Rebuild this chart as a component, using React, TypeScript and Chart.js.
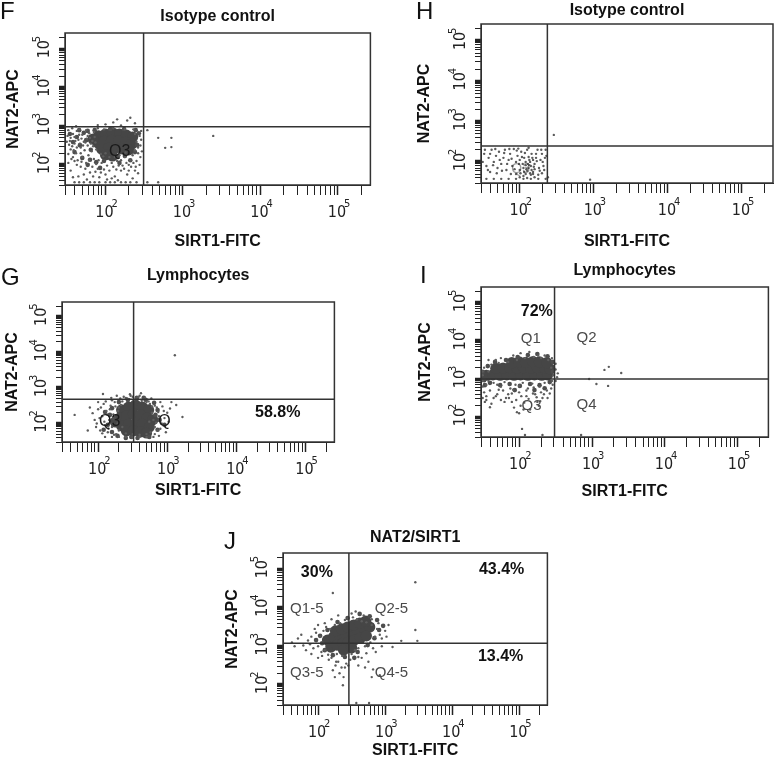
import { useEffect, useRef } from 'react';
import { Chart, registerables } from 'chart.js';

Chart.register(...registerables);

// ---------- axis data ----------
const AXIS_MIN = 30;
const AXIS_MAX = 262144;
const TICK_VALUES = [
  30, 40, 50, 60, 70, 80, 90,
  100, 200, 300, 400, 500, 600, 700, 800, 900,
  1000, 2000, 3000, 4000, 5000, 6000, 7000, 8000, 9000,
  10000, 20000, 30000, 40000, 50000, 60000, 70000, 80000, 90000,
  100000, 200000,
];
const DECADE_VALUES = [100, 1000, 10000, 100000];
const DECADE_LABELS = ['10²', '10³', '10⁴', '10⁵'];
const DECADE_BASE = '10';
const DECADE_EXPONENTS = ['2', '3', '4', '5'];

const X_AXIS_TITLE = 'SIRT1-FITC';
const Y_AXIS_TITLE = 'NAT2-APC';
const PANEL_LETTERS = ['F', 'H', 'G', 'I', 'J'];
const PANEL_TITLES = ['Isotype control', 'Isotype control', 'Lymphocytes', 'Lymphocytes', 'NAT2/SIRT1'];

// ---------- gates [x, y] ----------
const F_GATE = [310, 975];
const H_GATE = [236, 248];
const G_GATE = [326, 478];
const I_GATE = [306, 1002];
const J_GATE = [288, 1194];

// ---------- text inside plots ----------
const F_OVERLAY = ['Q3'];
const H_OVERLAY = ['Q3'];
const G_OVERLAY = ['Q3', 'Q'];
const G_PERCENTS = ['58.8%'];
const I_PERCENTS = ['72%'];
const I_QUADRANTS = ['Q1', 'Q2', 'Q3', 'Q4'];
const J_PERCENTS = ['30%', '43.4%', '13.4%'];
const J_QUADRANTS = ['Q1-5', 'Q2-5', 'Q3-5', 'Q4-5'];

// ---------- events, as [log10 x, log10 y] ----------
// F: isotype control
const F_CORE = [
  [1.91, 2.75], [2.0, 2.8], [2.09, 2.83], [2.18, 2.8], [2.27, 2.77], [2.35, 2.72],
  [1.9, 2.57], [1.99, 2.62], [2.08, 2.64], [2.17, 2.62], [2.26, 2.59], [2.34, 2.54],
  [1.95, 2.41], [2.04, 2.44], [2.13, 2.44], [2.22, 2.41], [2.3, 2.39],
  [2.0, 2.26], [2.09, 2.23], [1.84, 2.67],
];
const F_MID = [
  [1.77, 2.88], [1.81, 2.39], [1.75, 2.64], [1.72, 2.83], [1.67, 2.51], [1.63, 2.72], [1.58, 2.59],
  [1.54, 2.8], [1.6, 2.33], [1.7, 2.18], [1.8, 2.13], [1.88, 2.07], [1.98, 2.1], [2.16, 2.2],
  [2.25, 2.23], [2.38, 2.33], [2.41, 2.51], [2.43, 2.82], [2.39, 2.9], [1.86, 2.9], [2.06, 2.93],
  [2.24, 2.93], [1.77, 2.0], [1.93, 1.92], [2.18, 2.05], [2.32, 2.12], [1.66, 2.9],
];
const F_EVENTS = [
  [1.52, 2.9], [1.55, 2.7], [1.58, 2.8], [1.6, 2.55], [1.63, 2.88], [1.65, 2.65], [1.68, 2.45],
  [1.7, 2.78], [1.72, 2.6], [1.75, 2.9], [1.77, 2.5], [1.8, 2.7], [1.82, 2.35], [1.85, 2.85],
  [1.87, 2.58], [1.55, 2.4], [1.62, 2.3], [1.7, 2.2], [1.78, 2.25], [1.88, 2.4], [1.5, 2.6],
  [1.53, 2.52], [1.57, 2.95], [1.66, 2.92], [1.73, 2.38], [1.79, 2.82], [1.83, 2.62], [1.6, 2.72],
  [1.67, 2.55], [1.76, 2.68], [1.84, 2.48], [1.58, 2.2], [1.64, 2.12],
  [1.6, 2.1], [1.68, 1.95], [1.75, 2.05], [1.8, 1.8], [1.85, 2.15], [1.9, 1.9], [1.95, 2.05],
  [2.0, 1.75], [2.05, 2.2], [2.1, 1.95], [2.15, 2.1], [2.2, 1.85], [2.25, 2.2], [2.3, 2.0],
  [2.35, 2.25], [2.4, 2.1], [2.0, 2.3], [2.12, 1.7], [2.28, 1.75], [1.92, 1.68], [2.38, 1.85],
  [1.72, 1.75], [2.18, 2.25], [2.08, 2.05], [1.98, 1.88], [2.22, 1.98], [2.32, 2.12], [1.88, 2.02],
  [1.55, 1.85], [1.65, 1.7], [2.44, 2.0], [2.42, 2.3],
  [1.51, 2.75], [1.54, 2.62], [1.57, 2.48], [1.59, 2.38], [1.61, 2.62], [1.63, 2.45], [1.66, 2.78],
  [1.69, 2.68], [1.71, 2.5], [1.74, 2.58], [1.77, 2.75], [1.81, 2.55], [1.86, 2.72], [1.52, 2.28],
  [1.56, 2.15], [1.63, 2.0], [1.69, 2.08], [1.74, 1.9], [1.79, 2.12], [1.83, 1.95], [1.87, 1.82],
  [1.91, 2.12], [1.94, 1.8], [1.97, 2.22], [2.02, 1.98], [2.05, 1.85], [2.08, 1.65], [2.14, 1.88],
  [2.17, 1.98], [2.2, 2.12], [2.24, 1.9], [2.27, 2.05], [2.3, 1.85], [2.33, 1.95], [2.36, 2.05],
  [2.39, 1.95], [2.42, 1.78], [2.45, 2.2], [2.45, 2.5], [2.46, 2.65], [1.76, 1.62], [1.84, 1.7],
  [2.02, 1.62], [2.16, 1.6], [2.35, 1.65], [1.58, 1.68], [1.52, 2.05], [1.68, 2.3], [1.94, 2.28],
  [2.12, 2.2], [2.26, 2.32], [2.47, 2.35],
  [1.6, 1.55], [1.66, 1.55], [1.72, 1.55], [1.8, 1.55], [1.86, 1.55], [1.92, 1.55], [2.0, 1.55],
  [2.06, 1.55], [2.12, 1.55], [2.2, 1.55], [2.26, 1.55], [2.32, 1.55], [2.4, 1.55], [2.54, 1.55],
  [2.68, 1.55],
  [2.38, 2.8], [2.4, 2.6], [2.42, 2.45], [2.36, 2.92], [2.25, 2.93], [1.98, 2.92], [2.1, 2.95],
  [2.44, 2.75], [2.46, 2.88], [2.38, 2.38], [1.9, 2.95],
  [2.0, 3.05], [2.1, 3.1], [2.2, 3.02], [2.28, 3.15], [2.38, 3.08], [2.15, 3.18], [1.9, 3.03],
  [1.62, 3.0], [2.32, 3.22],
  [2.54, 2.9], [2.68, 2.7], [2.85, 2.7], [2.77, 2.44], [2.85, 2.46], [3.39, 2.75],
];

// H: isotype control
const H_CORE: number[][] = [];
const H_MID: number[][] = [];
const H_EVENTS = [
  [1.52, 2.2], [1.55, 1.9], [1.58, 2.1], [1.6, 1.75], [1.62, 2.3], [1.65, 2.0], [1.68, 2.15],
  [1.7, 1.85], [1.72, 2.25], [1.75, 1.95], [1.78, 2.1], [1.8, 2.3], [1.82, 1.8], [1.85, 2.05],
  [1.87, 2.2], [1.9, 1.9], [1.92, 2.32], [1.95, 2.0], [1.97, 2.15], [2.0, 1.8], [2.02, 2.25],
  [2.04, 1.95], [2.06, 2.1], [2.08, 1.7], [2.1, 2.3], [2.12, 1.85], [2.14, 2.0], [2.16, 2.2],
  [2.18, 1.75], [2.2, 1.95], [2.22, 2.1], [2.24, 2.3], [2.26, 1.85], [2.28, 2.05], [2.3, 2.2],
  [2.32, 1.9], [2.34, 2.1], [2.05, 1.65], [2.1, 1.6], [2.15, 1.68], [2.0, 1.62], [1.95, 1.7],
  [2.2, 1.62], [2.12, 2.35], [1.98, 2.33], [2.25, 1.68], [2.08, 2.0], [2.18, 2.05], [2.03, 2.12],
  [2.13, 1.92], [1.88, 1.7], [2.3, 1.72], [2.35, 2.3],
  [2.05, 1.85], [2.1, 1.78], [2.15, 1.9], [2.2, 1.82], [2.08, 1.92], [2.18, 1.7], [2.12, 2.12],
  [2.22, 2.2], [2.0, 2.05],
  [1.5, 2.0], [1.53, 2.3], [1.57, 1.8], [1.6, 2.2], [1.64, 1.92], [1.67, 2.32], [1.69, 1.72],
  [1.73, 2.05], [1.76, 1.78], [1.79, 2.22], [1.83, 1.95], [1.86, 2.32], [1.89, 2.08], [1.93, 1.82],
  [1.96, 2.28], [1.99, 1.95], [2.01, 1.72], [2.07, 2.22], [2.11, 1.95], [2.14, 1.72], [2.17, 2.1],
  [2.19, 1.88], [2.23, 2.02], [2.27, 1.78], [2.29, 2.3], [2.31, 2.0], [2.33, 1.8], [2.36, 2.15],
  [2.09, 1.82], [2.16, 1.8], [2.06, 1.75], [2.13, 2.05],
  [1.55, 1.58], [1.65, 1.58], [1.75, 1.58], [1.85, 1.58], [1.95, 1.58], [2.05, 1.58], [2.15, 1.58],
  [2.25, 1.58], [2.35, 1.58],
  [2.46, 2.67], [2.38, 1.62], [2.95, 1.56],
];

// G: lymphocytes
const G_CORE = [
  [2.34, 2.38], [2.44, 2.46], [2.54, 2.52], [2.64, 2.46], [2.73, 2.38],
  [2.31, 2.15], [2.41, 2.21], [2.51, 2.27], [2.61, 2.24], [2.71, 2.15], [2.79, 2.1],
  [2.34, 1.93], [2.44, 1.98], [2.54, 2.01], [2.64, 1.98], [2.74, 1.9],
  [2.41, 1.79], [2.51, 1.79], [2.61, 1.76], [2.7, 1.73],
  [2.25, 2.04],
];
const G_MID = [
  [2.2, 2.43], [2.17, 2.24], [2.14, 1.96], [2.2, 1.76], [2.28, 1.65], [2.4, 1.59], [2.57, 1.59],
  [2.74, 1.62], [2.86, 1.82], [2.89, 2.1], [2.86, 2.38], [2.81, 2.58], [2.69, 2.66], [2.56, 2.72],
  [2.43, 2.66], [2.3, 2.6], [2.23, 2.15], [2.83, 2.24], [2.1, 2.32], [2.96, 1.96], [2.08, 1.82],
  [2.48, 1.62], [2.66, 2.72],
];
const G_EVENTS = [
  [1.92, 2.29], [1.66, 2.24], [1.98, 2.0], [2.0, 2.4], [2.03, 1.8], [2.06, 2.2], [2.08, 2.55],
  [2.1, 1.95], [2.12, 2.35], [2.14, 1.75], [2.16, 2.1], [2.18, 2.5], [2.2, 1.9], [2.22, 2.25],
  [2.24, 2.6], [2.26, 1.7], [2.28, 2.0], [2.3, 2.45], [2.32, 2.7], [2.3, 1.8], [2.35, 2.62],
  [2.4, 2.72], [2.45, 2.68], [2.5, 2.75], [2.55, 2.7], [2.6, 2.78], [2.65, 2.68], [2.7, 2.6],
  [2.75, 2.55], [2.78, 2.3], [2.8, 2.1], [2.82, 1.9], [2.85, 2.45], [2.88, 2.2], [2.9, 2.6],
  [2.92, 2.0], [2.95, 2.35], [2.76, 1.75], [2.7, 1.7], [2.6, 1.68], [2.5, 1.7], [2.4, 1.72],
  [2.35, 1.9], [2.74, 2.05], [2.78, 2.48], [2.86, 1.8], [3.0, 2.3], [3.06, 2.6], [3.13, 2.52],
  [3.22, 2.18], [2.07, 2.83], [2.2, 2.65], [2.62, 2.85], [2.46, 2.82],
  [1.95, 2.1], [1.97, 1.9], [2.0, 2.6], [2.02, 2.15], [2.04, 2.45], [2.06, 1.72], [2.09, 2.05],
  [2.11, 2.62], [2.13, 2.25], [2.15, 1.85], [2.17, 2.4], [2.19, 2.72], [2.21, 2.0], [2.23, 1.68],
  [2.25, 2.48], [2.27, 2.78], [2.29, 2.35], [2.33, 2.52], [2.37, 2.75], [2.42, 2.7], [2.47, 2.78],
  [2.52, 2.66], [2.58, 2.74], [2.63, 2.64], [2.68, 2.72], [2.73, 2.62], [2.77, 2.7], [2.82, 2.5],
  [2.84, 2.02], [2.87, 2.32], [2.9, 1.85], [2.93, 2.48], [2.96, 2.15], [2.98, 1.75], [3.02, 2.05],
  [3.04, 2.42], [2.82, 1.7], [2.88, 1.65], [1.88, 2.45], [1.85, 1.8],
  [2.1, 1.62], [2.2, 1.62], [2.3, 1.62], [2.4, 1.62], [2.5, 1.62], [2.6, 1.62], [2.7, 1.62],
  [2.8, 1.62], [3.11, 3.92],
];

// I: lymphocytes
const I_CORE = [
  [1.55, 3.1], [1.64, 3.11], [1.74, 3.1], [1.83, 3.11], [1.93, 3.1], [2.02, 3.11], [2.12, 3.1],
  [2.21, 3.11], [2.31, 3.1], [2.39, 3.11],
  [1.68, 3.28], [1.78, 3.29], [1.87, 3.3], [1.97, 3.29], [2.06, 3.3], [2.16, 3.29], [2.25, 3.3],
  [2.35, 3.29], [2.42, 3.27],
  [1.9, 3.43], [2.0, 3.45], [2.09, 3.44], [2.19, 3.46], [2.28, 3.45], [2.38, 3.43],
];
const I_MID = [
  [1.5, 3.19], [1.52, 2.97], [1.57, 3.34], [1.6, 2.9], [1.74, 2.84], [1.87, 2.87], [2.01, 2.82],
  [2.15, 2.87], [2.28, 2.84], [2.42, 2.92], [2.46, 3.19], [2.46, 3.45], [2.39, 3.6], [2.25, 3.66],
  [2.12, 3.63], [1.98, 3.58], [1.82, 3.5], [1.67, 3.45], [1.53, 2.84], [1.94, 2.71], [2.21, 2.71],
  [2.35, 2.76],
];
const I_EVENTS = [
  [1.5, 2.95], [1.52, 3.3], [1.55, 2.85], [1.6, 2.7], [1.62, 3.38], [1.65, 2.9], [1.7, 2.6],
  [1.72, 3.42], [1.75, 2.8], [1.8, 2.92], [1.82, 2.5], [1.85, 3.45], [1.88, 2.75], [1.9, 2.4],
  [1.95, 2.85], [1.97, 3.5], [2.0, 2.65], [2.02, 2.3], [2.05, 2.9], [2.08, 3.55], [2.1, 2.55],
  [2.12, 2.75], [2.15, 2.2], [2.18, 2.88], [2.2, 3.58], [2.22, 2.6], [2.25, 2.4], [2.28, 2.8],
  [2.3, 3.55], [2.32, 2.5], [2.35, 2.9], [2.38, 2.7], [2.4, 3.5], [2.44, 3.3], [2.46, 2.85],
  [2.47, 3.1], [2.5, 3.25], [2.52, 3.05], [2.14, 3.71], [1.6, 2.26], [1.93, 2.25], [1.97, 2.13],
  [2.0, 2.1], [1.75, 2.45], [1.55, 2.55], [2.04, 1.69], [2.08, 1.53], [2.32, 1.53], [3.17, 3.24],
  [3.23, 3.32], [3.4, 3.16], [2.96, 3.0], [3.06, 2.87], [3.22, 2.82], [2.85, 1.53], [1.68, 3.5],
  [1.58, 3.2], [2.26, 3.62],
  [1.5, 3.1], [1.5, 3.2], [1.5, 2.8], [1.52, 2.65], [1.58, 2.95], [1.65, 2.5], [1.7, 2.85],
  [1.78, 2.7], [1.85, 2.6], [1.92, 2.72], [2.0, 2.82], [2.1, 2.7], [2.2, 2.78], [2.3, 2.65],
  [2.42, 2.62], [2.45, 2.95],
  [1.55, 2.45], [1.62, 2.35], [1.68, 2.55], [1.72, 2.72], [1.8, 2.4], [1.86, 2.5], [1.9, 2.62],
  [1.96, 2.45], [2.03, 2.55], [2.07, 2.38], [2.13, 2.48], [2.19, 2.62], [2.24, 2.52], [2.29, 2.42],
  [2.34, 2.6], [2.39, 2.5], [2.44, 2.75], [1.58, 3.5], [1.75, 3.55], [1.92, 3.62], [2.02, 3.68],
  [2.35, 3.62], [2.45, 3.55], [2.5, 3.4], [2.53, 3.15], [2.5, 2.95], [1.5, 2.5], [1.53, 2.4],
  [2.27, 2.3], [2.06, 2.2],
];

// J: NAT2/SIRT1
const J_CORE = [
  [2.14, 3.16], [2.23, 3.24], [2.32, 3.27], [2.41, 3.32], [2.5, 3.37], [2.59, 3.42], [2.68, 3.47],
  [2.77, 3.5],
  [2.19, 2.98], [2.28, 3.03], [2.37, 3.08], [2.45, 3.11], [2.54, 3.16], [2.63, 3.21], [2.72, 3.27],
  [2.26, 3.4], [2.35, 3.45], [2.44, 3.5], [2.53, 3.55], [2.62, 3.6], [2.71, 3.65],
  [2.38, 2.9], [2.5, 2.96],
];
const J_MID = [
  [2.06, 3.08], [2.03, 3.27], [2.1, 2.9], [2.22, 2.77], [2.4, 2.72], [2.59, 2.85], [2.74, 3.03],
  [2.84, 3.21], [2.91, 3.42], [2.88, 3.68], [2.77, 3.78], [2.62, 3.84], [2.44, 3.73], [2.29, 3.63],
  [2.14, 3.42], [2.97, 3.53], [1.97, 3.16], [2.54, 2.7],
];
const J_EVENTS = [
  [1.61, 3.1], [1.7, 3.2], [1.78, 3.02], [1.85, 3.15], [1.9, 3.25], [1.93, 2.95], [1.97, 3.35],
  [2.0, 3.0], [2.03, 3.25], [2.05, 2.85], [2.08, 3.4], [2.1, 2.9], [2.12, 3.5], [2.15, 2.78],
  [2.18, 3.45], [2.2, 2.7], [2.25, 3.55], [2.28, 2.8], [2.3, 2.6], [2.33, 3.6], [2.36, 2.75],
  [2.4, 3.68], [2.42, 2.55], [2.45, 3.72], [2.5, 2.8], [2.52, 3.75], [2.55, 2.9], [2.58, 3.7],
  [2.6, 2.95], [2.65, 3.65], [2.7, 3.0], [2.72, 3.62], [2.78, 3.1], [2.8, 3.55], [2.85, 3.25],
  [2.88, 3.45], [2.92, 3.3], [2.95, 3.2], [2.82, 2.95], [2.9, 3.6], [3.0, 3.4], [2.22, 2.38],
  [2.25, 2.2], [2.37, 1.99], [2.4, 2.45], [2.32, 2.3], [2.27, 2.6], [2.75, 2.6], [2.82, 2.4],
  [2.92, 2.25], [2.6, 2.5], [2.65, 2.7], [2.22, 4.38], [3.45, 4.66], [3.45, 3.42], [3.48, 3.14],
  [3.24, 3.14], [3.11, 2.98], [2.57, 1.53], [2.76, 1.53], [2.0, 2.7], [1.9, 2.8], [2.48, 2.65],
  [1.65, 3.0], [1.75, 3.3], [1.82, 2.9], [1.88, 3.05], [1.95, 3.45], [2.0, 3.55], [2.06, 2.75],
  [2.1, 3.6], [2.16, 2.65], [2.2, 3.7], [2.26, 2.5], [2.3, 3.8], [2.35, 2.45], [2.45, 2.5],
  [2.5, 3.85], [2.56, 3.9], [2.6, 2.72], [2.68, 3.8], [2.72, 2.82], [2.8, 3.7], [2.86, 2.85],
  [2.95, 3.0], [3.02, 3.25], [3.05, 3.55], [2.38, 2.2], [2.7, 2.45], [2.8, 2.2],
];

// ---------- layout (page pixels) ----------
const FONT = "'Liberation Sans', Arial, sans-serif";
const NARROW = "'Liberation Sans Narrow', 'DejaVu Sans Condensed', 'Arial Narrow', sans-serif";

type TextItem = { text: string; kind: 'pct' | 'q' | 'ov' | 'faint'; fx: number; fy: number };
type PanelCfg = {
  box: number[]; titleY: number; yTitleX: number; xTitleOff: number;
  letter: string; letterLeft: number; letterBase: number; title: string;
  gate: number[]; core: number[][]; mid: number[][]; events: number[][]; texts: TextItem[];
};

const PANELS: PanelCfg[] = [
  {
    box: [65, 33, 372, 185], titleY: 17, yTitleX: 14, xTitleOff: 56.5,
    letter: PANEL_LETTERS[0], letterLeft: 0, letterBase: 19, title: PANEL_TITLES[0],
    gate: F_GATE, core: F_CORE, mid: F_MID, events: F_EVENTS,
    texts: [{ text: F_OVERLAY[0], kind: 'ov', fx: 0.179, fy: 0.783 }],
  },
  {
    box: [481, 24, 776, 183], titleY: 11, yTitleX: 425, xTitleOff: 58,
    letter: PANEL_LETTERS[1], letterLeft: 416, letterBase: 19, title: PANEL_TITLES[1],
    gate: H_GATE, core: H_CORE, mid: H_MID, events: H_EVENTS,
    texts: [{ text: H_OVERLAY[0], kind: 'faint', fx: 0.136, fy: 0.91 }],
  },
  {
    box: [62, 302, 336, 442], titleY: 276, yTitleX: 12.5, xTitleOff: 48,
    letter: PANEL_LETTERS[2], letterLeft: 1, letterBase: 285, title: PANEL_TITLES[2],
    gate: G_GATE, core: G_CORE, mid: G_MID, events: G_EVENTS,
    texts: [
      { text: G_PERCENTS[0], kind: 'pct', fx: 0.792, fy: 0.793 },
      { text: G_OVERLAY[0], kind: 'ov', fx: 0.175, fy: 0.857 },
      { text: G_OVERLAY[1], kind: 'ov', fx: 0.376, fy: 0.857 },
    ],
  },
  {
    box: [481, 287, 770, 437], titleY: 271, yTitleX: 426, xTitleOff: 54,
    letter: PANEL_LETTERS[3], letterLeft: 420, letterBase: 283, title: PANEL_TITLES[3],
    gate: I_GATE, core: I_CORE, mid: I_MID, events: I_EVENTS,
    texts: [
      { text: I_PERCENTS[0], kind: 'pct', fx: 0.194, fy: 0.167 },
      { text: I_QUADRANTS[0], kind: 'q', fx: 0.173, fy: 0.347 },
      { text: I_QUADRANTS[1], kind: 'q', fx: 0.367, fy: 0.34 },
      { text: I_QUADRANTS[2], kind: 'q', fx: 0.176, fy: 0.793 },
      { text: I_QUADRANTS[3], kind: 'q', fx: 0.367, fy: 0.787 },
    ],
  },
  {
    box: [283, 553, 549, 705], titleY: 538, yTitleX: 233, xTitleOff: 45,
    letter: PANEL_LETTERS[4], letterLeft: 224, letterBase: 549, title: PANEL_TITLES[4],
    gate: J_GATE, core: J_CORE, mid: J_MID, events: J_EVENTS,
    texts: [
      { text: J_PERCENTS[0], kind: 'pct', fx: 0.128, fy: 0.132 },
      { text: J_PERCENTS[1], kind: 'pct', fx: 0.827, fy: 0.112 },
      { text: J_PERCENTS[2], kind: 'pct', fx: 0.823, fy: 0.684 },
      { text: J_QUADRANTS[0], kind: 'q', fx: 0.09, fy: 0.368 },
      { text: J_QUADRANTS[1], kind: 'q', fx: 0.41, fy: 0.368 },
      { text: J_QUADRANTS[2], kind: 'q', fx: 0.09, fy: 0.789 },
      { text: J_QUADRANTS[3], kind: 'q', fx: 0.41, fy: 0.789 },
    ],
  },
];

const toPoints = (arr: number[][]) => arr.map(([lx, ly]) => ({ x: Math.pow(10, lx), y: Math.pow(10, ly) }));

function axisOptions(axis: 'x' | 'y', size: number, titleText: string) {
  return {
    type: 'logarithmic' as const,
    min: AXIS_MIN,
    max: AXIS_MAX,
    afterBuildTicks: (s: any) => {
      s.ticks = TICK_VALUES.map((v) => ({ value: v }));
    },
    afterFit: (s: any) => {
      if (axis === 'x') s.height = size;
      else s.width = size;
    },
    ticks: {
      display: false,
      autoSkip: false,
      callback: (v: any) => {
        const i = DECADE_VALUES.indexOf(Number(v));
        return i >= 0 ? DECADE_LABELS[i] : '';
      },
    },
    grid: {
      display: true,
      drawOnChartArea: false,
      drawTicks: true,
      tickLength: axis === 'x' ? 10 : 6,
      color: '#222',
      tickColor: '#222',
      tickWidth: (c: any) =>
        DECADE_VALUES.includes(c.tick && c.tick.value) ? (axis === 'x' ? 1.5 : 3.5) : 1,
    },
    border: { display: true, color: '#222', width: 1 },
    title: {
      display: true,
      text: titleText,
      color: '#111',
      font: { family: FONT, size: 16, weight: 'bold' as const },
      padding: axis === 'x' ? { top: 0, bottom: 2 } : { top: 0, bottom: 0 },
    },
  };
}

function makeDeco(p: PanelCfg) {
  return {
    id: 'flowDeco',
    afterDatasetsDraw(chart: any) {
      const { ctx, chartArea: a } = chart;
      const xs = chart.scales.x;
      const ys = chart.scales.y;
      ctx.save();
      // gates
      ctx.strokeStyle = '#333';
      ctx.lineWidth = 1.5;
      const gx = xs.getPixelForValue(p.gate[0]);
      const gy = ys.getPixelForValue(p.gate[1]);
      ctx.beginPath();
      ctx.moveTo(gx, a.top);
      ctx.lineTo(gx, a.bottom);
      ctx.moveTo(a.left, gy);
      ctx.lineTo(a.right, gy);
      ctx.stroke();
      // frame
      ctx.strokeRect(a.left, a.top, a.right - a.left, a.bottom - a.top);
      // texts
      ctx.textAlign = 'center';
      ctx.textBaseline = 'middle';
      for (const t of p.texts) {
        const px = a.left + t.fx * (a.right - a.left);
        const py = a.top + t.fy * (a.bottom - a.top);
        if (t.kind === 'pct') {
          ctx.font = `bold 16px ${FONT}`;
          ctx.fillStyle = '#111';
        } else if (t.kind === 'q') {
          ctx.font = `15px ${FONT}`;
          ctx.fillStyle = '#4a4a4a';
        } else if (t.kind === 'faint') {
          ctx.font = `14px ${FONT}`;
          ctx.fillStyle = 'rgba(40,40,40,0.45)';
        } else {
          ctx.font = `16px ${FONT}`;
          ctx.fillStyle = '#1a1a1a';
        }
        ctx.fillText(t.text, px, py);
      }
      // x tick labels
      ctx.fillStyle = '#222';
      for (const tk of xs.ticks) {
        const i = DECADE_VALUES.indexOf(tk.value);
        if (i < 0) continue;
        const px = xs.getPixelForValue(tk.value);
        ctx.font = `16px ${NARROW}`;
        ctx.textAlign = 'center';
        ctx.textBaseline = 'middle';
        ctx.fillText(DECADE_BASE, px - 1, a.bottom + 28);
        ctx.font = `11px ${NARROW}`;
        ctx.textAlign = 'left';
        ctx.fillText(DECADE_EXPONENTS[i], px + 6, a.bottom + 19);
      }
      // y tick labels (rotated)
      for (const tk of ys.ticks) {
        const i = DECADE_VALUES.indexOf(tk.value);
        if (i < 0) continue;
        const py = ys.getPixelForValue(tk.value);
        ctx.save();
        ctx.translate(a.left - 20, py);
        ctx.rotate(-Math.PI / 2);
        ctx.font = `16px ${NARROW}`;
        ctx.textAlign = 'center';
        ctx.textBaseline = 'middle';
        ctx.fillText(DECADE_BASE, 0, 0);
        ctx.font = `11px ${NARROW}`;
        ctx.textAlign = 'left';
        ctx.fillText(DECADE_EXPONENTS[i], 7, -8);
        ctx.restore();
      }
      ctx.restore();
    },
  };
}

function Panel({ p }: { p: PanelCfg }) {
  const ref = useRef<HTMLCanvasElement | null>(null);
  const [L, T, R, B] = p.box;
  const canvasLeft = Math.round(p.yTitleX - 9.6);
  const canvasTop = Math.round(p.titleY - 11.6);
  const padRight = Math.min(4, 777 - R);
  const width = R + padRight - canvasLeft;
  const height = Math.round(B + p.xTitleOff + 11.6 - canvasTop);
  const yw = L - canvasLeft;
  const xh = height - (B - canvasTop);
  const titlePadBottom = T - canvasTop - 2 - 19.2;

  useEffect(() => {
    if (!ref.current) return;
    const chart = new Chart(ref.current, {
      type: 'scatter',
      data: {
        datasets: [
          {
            label: 'events',
            data: toPoints(p.events),
            pointRadius: 1.2,
            pointBackgroundColor: '#5c5c5c',
            pointBorderWidth: 0,
          },
          {
            label: 'fringe',
            data: toPoints(p.mid),
            pointRadius: 2.3,
            pointBackgroundColor: '#4e4e4e',
            pointBorderWidth: 0,
          },
          {
            label: 'core',
            data: toPoints(p.core),
            pointRadius: 5.6,
            pointBackgroundColor: '#464646',
            pointBorderWidth: 0,
          },
        ],
      },
      options: {
        animation: false,
        responsive: false,
        devicePixelRatio: 1,
        events: [],
        layout: { padding: { left: 0, top: 0, right: padRight, bottom: 0 } },
        plugins: {
          legend: { display: false },
          tooltip: { enabled: false },
          title: {
            display: true,
            text: p.title,
            fullSize: false,
            color: '#111',
            font: { family: FONT, size: 16, weight: 'bold' },
            padding: { top: 2, bottom: titlePadBottom },
          },
        },
        scales: {
          x: axisOptions('x', xh, X_AXIS_TITLE) as any,
          y: axisOptions('y', yw, Y_AXIS_TITLE) as any,
        },
      } as any,
      plugins: [makeDeco(p)],
    });
    return () => chart.destroy();
  }, []);

  return (
    <>
      <canvas
        ref={ref}
        width={width}
        height={height}
        style={{ position: 'absolute', left: canvasLeft, top: canvasTop, width, height }}
      />
      <div
        style={{
          position: 'absolute',
          left: p.letterLeft,
          top: p.letterBase - 20.3,
          fontFamily: FONT,
          fontSize: 24,
          lineHeight: '24px',
          color: '#111',
        }}
      >
        {p.letter}
      </div>
    </>
  );
}

export default function App() {
  return (
    <div
      style={{
        position: 'absolute',
        left: 0,
        top: 0,
        width: 777,
        height: 765,
        overflow: 'hidden',
        background: '#fff',
      }}
    >
      {PANELS.map((p, i) => (
        <Panel key={i} p={p} />
      ))}
    </div>
  );
}
